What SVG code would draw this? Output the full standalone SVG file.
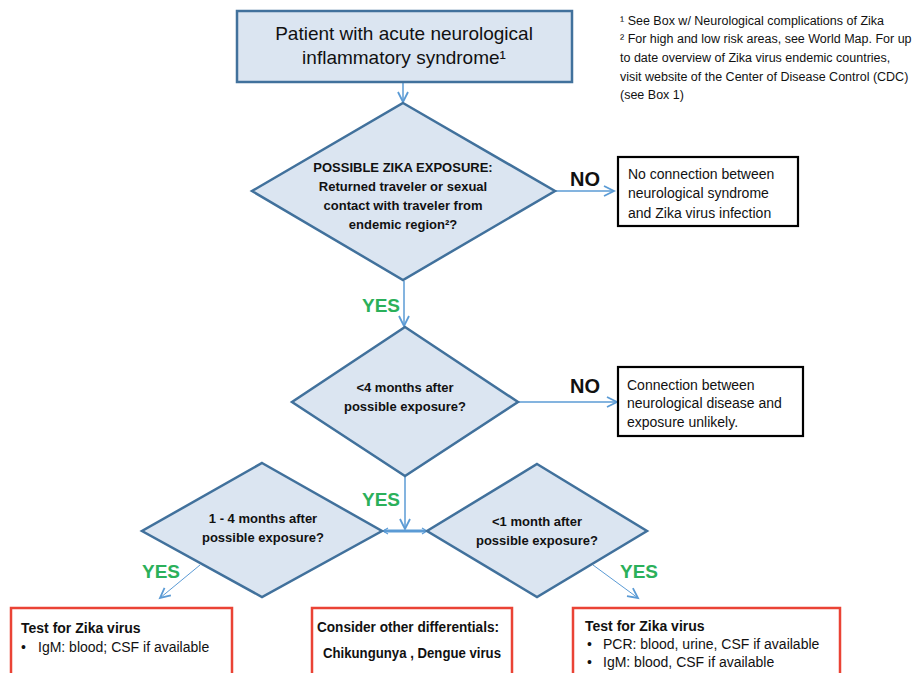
<svg xmlns="http://www.w3.org/2000/svg" width="917" height="673" viewBox="0 0 917 673">
<defs>
<style>
text{font-family:"Liberation Sans",Arial,sans-serif;fill:#111}
.blue{fill:#dbe5f1;stroke:#41719c;stroke-width:2.5}
.note{font-size:12.5px}
.dt{font-size:13px;font-weight:bold;text-anchor:middle}
.bx{font-size:14px}
.no{font-size:20px;font-weight:bold}
.yes{font-size:19px;font-weight:bold;fill:#2bb05a}
.blk{fill:#fff;stroke:#000;stroke-width:2.2}
.red{fill:#fff;stroke:#ea4335;stroke-width:2.5}
.c{fill:none;stroke:#5b9bd5;stroke-width:1.5}
.b{font-weight:bold}
</style>
<marker id="ar" markerUnits="userSpaceOnUse" markerWidth="14" markerHeight="14" refX="11" refY="6" orient="auto">
<path d="M1,1 L11,6 L1,11" fill="none" stroke="#5b9bd5" stroke-width="1.8"/>
</marker>
<marker id="sm" markerUnits="userSpaceOnUse" markerWidth="8" markerHeight="8" refX="6" refY="4" orient="auto">
<path d="M1,1 L6,4 L1,7" fill="none" stroke="#5b9bd5" stroke-width="1.2"/>
</marker>
</defs>
<rect width="917" height="673" fill="#fff"/>

<g id="notes">
<text class="note" x="620" y="25">¹ See Box  w/ Neurological complications of Zika</text>
<text class="note" x="620" y="43">² For high and low risk areas, see World Map. For up</text>
<text class="note" x="620" y="62">to date overview of Zika virus endemic countries,</text>
<text class="note" x="620" y="81">visit website of the Center of Disease Control (CDC)</text>
<text class="note" x="620" y="99">(see Box 1)</text>
</g>

<g id="connectors">
<line class="c" x1="403" y1="83" x2="403" y2="102" marker-end="url(#ar)"/>
<line class="c" x1="555" y1="191" x2="614" y2="191" marker-end="url(#ar)"/>
<line class="c" x1="404" y1="281" x2="404" y2="326" marker-end="url(#ar)"/>
<line class="c" x1="518" y1="402" x2="617" y2="402" marker-end="url(#ar)"/>
<line class="c" x1="405" y1="476" x2="405" y2="529" marker-end="url(#ar)"/>
<line x1="384" y1="531" x2="425" y2="531" stroke="#5b9bd5" stroke-width="3"/>
<line class="c" x1="405" y1="531" x2="383" y2="531" marker-end="url(#sm)"/>
<line class="c" x1="405" y1="531" x2="427" y2="531" marker-end="url(#sm)"/>
<line stroke="#5b9bd5" stroke-width="1" x1="200" y1="565" x2="160" y2="598" marker-end="url(#ar)"/>
<line stroke="#5b9bd5" stroke-width="1" x1="593" y1="565" x2="638" y2="598" marker-end="url(#ar)"/>
</g>

<g id="start">
<rect class="blue" x="237" y="11" width="335" height="71"/>
<text x="404" y="40" font-size="19" text-anchor="middle">Patient with acute neurological</text>
<text x="404" y="64" font-size="19" text-anchor="middle">inflammatory syndrome¹</text>
</g>

<g id="d1">
<polygon class="blue" points="403,103 555,191 403,280 252,191"/>
<text class="dt" x="403" y="172">POSSIBLE ZIKA EXPOSURE:</text>
<text class="dt" x="403" y="191">Returned traveler or sexual</text>
<text class="dt" x="403" y="210">contact with traveler from</text>
<text class="dt" x="403" y="229">endemic region²?</text>
</g>
<text class="no" x="570" y="186">NO</text>

<g id="n1">
<rect class="blk" x="618" y="157" width="180" height="69"/>
<text class="bx" x="628" y="179">No connection between</text>
<text class="bx" x="628" y="198">neurological syndrome</text>
<text class="bx" x="628" y="218">and Zika virus infection</text>
</g>

<text class="yes" x="362" y="312">YES</text>

<g id="d2">
<polygon class="blue" points="405,327 518,402 405,476 292,402"/>
<text class="dt" x="405" y="392">&lt;4 months after</text>
<text class="dt" x="405" y="411">possible exposure?</text>
</g>
<text class="no" x="570" y="393">NO</text>

<g id="n2">
<rect class="blk" x="618" y="367" width="185" height="69"/>
<text class="bx" x="627" y="390">Connection between</text>
<text class="bx" x="627" y="408">neurological disease and</text>
<text class="bx" x="627" y="427">exposure unlikely.</text>
</g>

<text class="yes" x="362" y="506">YES</text>

<g id="d3">
<polygon class="blue" points="262,463 382,531 262,597 142,531"/>
<text class="dt" x="263" y="523">1 - 4 months after</text>
<text class="dt" x="263" y="542">possible exposure?</text>
</g>

<g id="d4">
<polygon class="blue" points="537,464 647,531 537,597 427,531"/>
<text class="dt" x="537" y="526">&lt;1 month after</text>
<text class="dt" x="537" y="545">possible exposure?</text>
</g>

<text class="yes" x="142" y="578">YES</text>
<text class="yes" x="620" y="578">YES</text>

<g id="b1">
<rect class="red" x="11" y="608" width="221" height="80"/>
<text class="bx b" x="21" y="633">Test for Zika virus</text>
<text class="bx" x="21" y="652">•</text>
<text class="bx" x="38" y="652">IgM: blood; CSF if available</text>
</g>

<g id="b2">
<rect class="red" x="312" y="608" width="200" height="80"/>
<text class="bx b" x="317" y="632" textLength="182" lengthAdjust="spacingAndGlyphs">Consider other differentials:</text>
<text class="bx b" x="323" y="658" textLength="178" lengthAdjust="spacingAndGlyphs">Chikungunya , Dengue virus</text>
</g>

<g id="b3">
<rect class="red" x="573" y="608" width="267" height="80"/>
<text class="bx b" x="585" y="631">Test for Zika virus</text>
<text class="bx" x="587" y="649">•</text>
<text class="bx" x="603" y="649">PCR: blood, urine, CSF if available</text>
<text class="bx" x="587" y="667">•</text>
<text class="bx" x="603" y="667">IgM: blood, CSF if available</text>
</g>
</svg>
